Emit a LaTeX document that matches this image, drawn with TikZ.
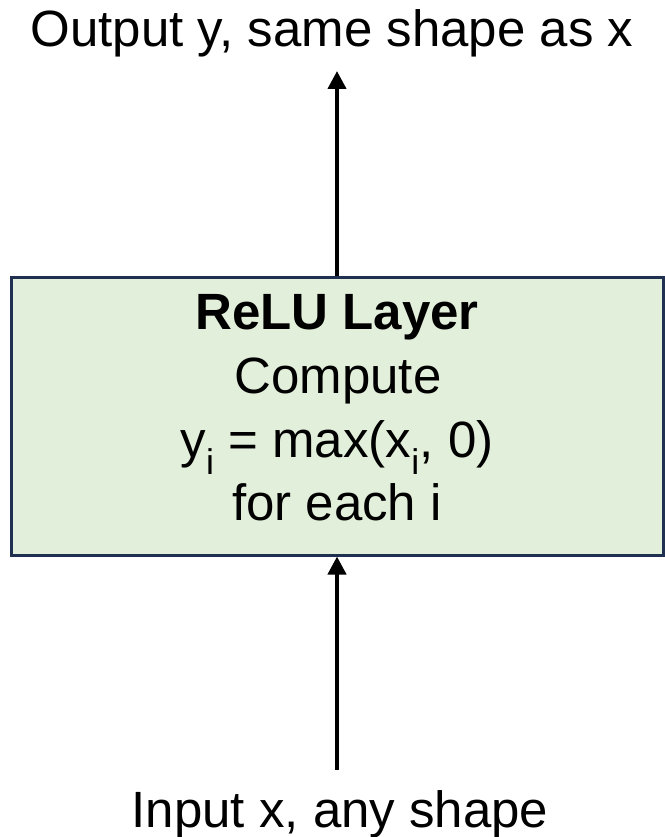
\documentclass[tikz,border=0pt]{standalone}
\usepackage{fontspec}
\setmainfont{Liberation Sans}
\usetikzlibrary{arrows.meta}
\definecolor{boxfill}{HTML}{E2EFDA}
\definecolor{boxline}{HTML}{1F3050}
\begin{document}
\begin{tikzpicture}[x=1pt,y=-1pt,
  lbl/.style={font=\fontsize{51}{60}\selectfont, inner sep=0pt, anchor=base},
  conn/.style={line width=4pt, -{Triangle[width=18pt,length=18pt]}},
  layerbox/.style={draw=boxline, line width=2.5pt, fill=boxfill}]
\useasboundingbox (0,0) rectangle (664,837);
\node[layerbox, minimum width=652pt, minimum height=278pt, anchor=north west] (box) at (10,276) {};
\node[lbl] (t1) at (337,329) {\textbf{ReLU Layer}};
\node[lbl] (t2) at (338,393) {Compute};
\node[lbl] (t3) at (337,457) {y\textsubscript{i} = max(x\textsubscript{i}, 0)};
\node[lbl] (t4) at (337,520) {for each i};
\node[lbl] (out) at (332,47) {Output y, same shape as x};
\node[lbl] (in) at (340,827) {Input x, any shape};
\coordinate (topend) at (337,71);
\coordinate (botstart) at (337,770);
\draw[conn] (box.north -| topend) -- (topend);
\draw[conn] (botstart) -- (box.south -| botstart);
\end{tikzpicture}
\end{document}
